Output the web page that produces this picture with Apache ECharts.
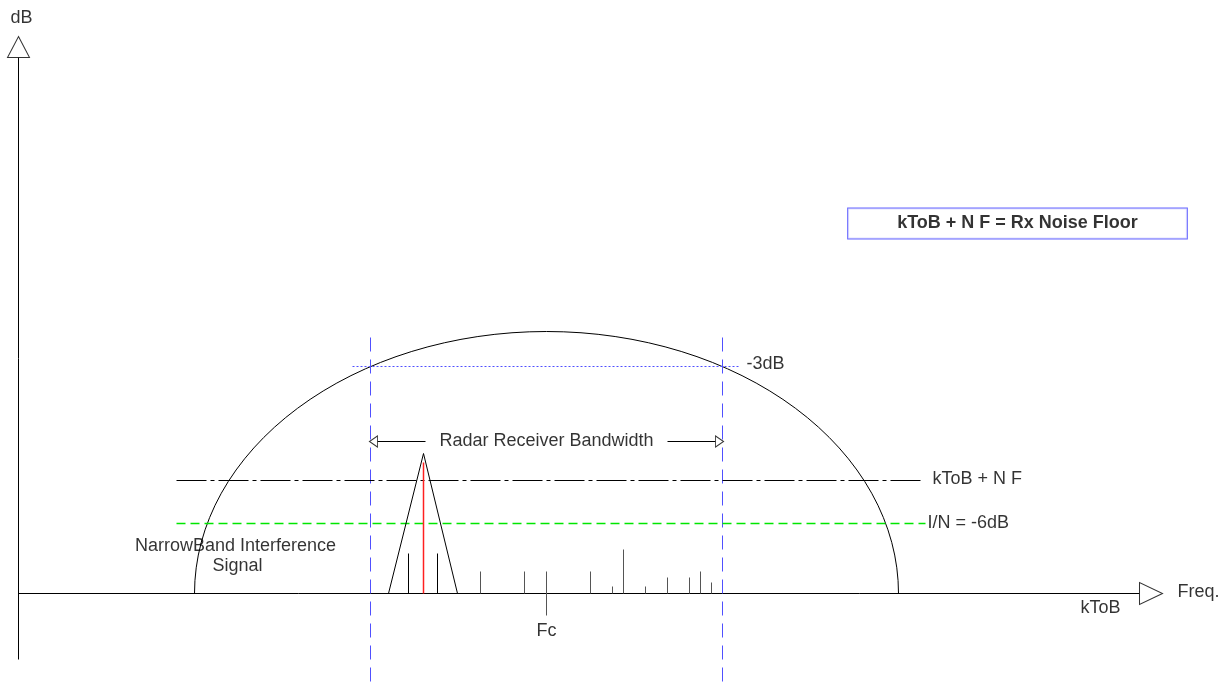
<!DOCTYPE html>
<html>
<head>
<meta charset="utf-8">
<script src="https://cdn.jsdelivr.net/npm/echarts@6/dist/echarts.min.js"></script>
<style>
html,body{margin:0;padding:0;background:#fff;}
#main{width:1226px;height:682px;}
</style>
</head>
<body>
<div id="main"></div>
<script>
// x: frequency offset from Fc, y: level above kToB (drawing units)
var xRange = [-546.5, 679.5];
var yRange = [-88.5, 593.5];

var freqAxis = [[-528, 0], [593, 0]];
var dbAxis = [[-528, -66], [-528, 536]];

// receiver response, half ellipse [centre, half width, height]
var passband = [0, 352, 262];
var bwEdges = [-176, 176];
var bwEdgeSpan = [-88, 262];
var level3dB = 227;
var level3dBSpan = [-194, 194];
var bwArrowLevel = 152;
var bwArrowSpan = [169, 121];
var noiseFloor = 113;
var noiseSpan = [-370, 374];
var inLevel = 70;
var inSpan = [-370, 379];

// narrowband interferer
var interferer = [[-158, 0], [-123, 140], [-89, 0]];
var carrier = [[-123, 0], [-123, 131]];

// spectral lines
var spikeX = [-138, -109, -66, -22, 0, 44, 66, 77, 99, 121, 143, 154, 165];
var spikeTop = [40, 40, 22, 22, 22, 22, 7, 44, 7, 16, 16, 22, 11];
var spikeBottom = [0, 0, 0, 0, -22, 0, 0, 0, 0, 0, 0, 0, 0];
var spikeInside = [1, 1, 0, 0, 0, 0, 0, 0, 0, 0, 0, 0, 0];

var FONT = '"Liberation Sans", Arial, sans-serif';
var BLUE = '#5050ff';
var GREEN = '#00e600';
var RED = '#ff2020';

var chart = echarts.init(document.getElementById('main'));

// polyline through data points, drawn with the given stroke
function segment(points, color, dash, width){
	return {
		type: 'custom', silent: true,
		data: [points.reduce(function(a, p){ return a.concat(p); }, [])],
		renderItem: function(params, api){
			var pts = [];
			for (var i = 0; i < points.length; i++) {
				pts.push(api.coord([api.value(2 * i), api.value(2 * i + 1)]));
			}
			return {
				type: 'polyline',
				shape: {points: pts},
				style: {fill: null, stroke: color, lineWidth: width || 1, lineDash: dash || null}
			};
		}
	};
}
function hline(y, span, color, dash, width){
	return segment([[span[0], y], [span[1], y]], color, dash, width);
}
function vline(x, span, color, dash, width){
	return segment([[x, span[0]], [x, span[1]]], color, dash, width);
}

var spikeData = spikeX.map(function(x, i){
	return [x, spikeTop[i], spikeBottom[i], spikeInside[i]];
});

var texts = [
	{value: [-525, 575], text: 'dB', align: 'center'},
	{value: [631, 1], text: 'Freq.', align: 'left'},
	{value: [534, -15], text: 'kToB', align: 'left'},
	{value: [0, -38], text: 'Fc', align: 'center'},
	{value: [200, 229], text: '-3dB', align: 'left'},
	{value: [0, 152], text: 'Radar Receiver Bandwidth', align: 'center'},
	{value: [386, 114], text: 'kToB + N F', align: 'left'},
	{value: [381, 70], text: 'I/N = -6dB', align: 'left'},
	{value: [-311, 47], text: 'NarrowBand Interference', align: 'center'},
	{value: [-309, 27], text: 'Signal', align: 'center'}
];

var series = [
	// axes
	hline(0, [freqAxis[0][0], freqAxis[1][0]], '#000'),
	vline(dbAxis[0][0], [dbAxis[0][1], dbAxis[1][1]], '#000'),
	{
		type: 'scatter', silent: true, symbol: 'triangle',
		itemStyle: {color: '#fff', borderColor: '#000', borderWidth: 1},
		data: [
			{value: [dbAxis[1][0], dbAxis[1][1] + 10.5], symbolSize: [22, 21]},
			{value: [freqAxis[1][0] + 11.5, 0], symbolSize: [22, 23], symbolRotate: -90},
			{value: [-bwArrowSpan[0] - 4, bwArrowLevel], symbolSize: [11, 8], symbolRotate: 90},
			{value: [bwArrowSpan[0] + 4, bwArrowLevel], symbolSize: [11, 8], symbolRotate: -90}
		],
		z: 5
	},
	// passband
	{
		type: 'custom', silent: true,
		data: [passband],
		renderItem: function(params, api){
			var cx = api.value(0), rx = api.value(1), ry = api.value(2);
			var l = api.coord([cx - rx, 0]);
			var r = api.coord([cx + rx, 0]);
			var s = api.size([rx, ry]);
			return {
				type: 'path',
				shape: {pathData: 'M' + l[0] + ' ' + l[1] + ' A' + s[0] + ' ' + s[1] + ' 0 0 1 ' + r[0] + ' ' + r[1]},
				style: {fill: null, stroke: '#000', lineWidth: 1}
			};
		}
	},
	vline(bwEdges[0], bwEdgeSpan, BLUE, [14, 8]),
	vline(bwEdges[1], bwEdgeSpan, BLUE, [14, 8]),
	hline(level3dB, level3dBSpan, BLUE, [2, 2]),
	hline(bwArrowLevel, [-bwArrowSpan[0], -bwArrowSpan[1]], '#000'),
	hline(bwArrowLevel, [bwArrowSpan[1], bwArrowSpan[0]], '#000'),
	hline(noiseFloor, noiseSpan, '#000', [30, 4, 4, 4]),
	hline(inLevel, inSpan, GREEN, [9, 5], 1.5),
	// interferer
	segment(interferer, '#000'),
	segment(carrier, RED, null, 1.5),
	{
		type: 'custom', silent: true,
		data: spikeData,
		renderItem: function(params, api){
			var p1 = api.coord([api.value(0), api.value(2)]);
			var p2 = api.coord([api.value(0), api.value(1)]);
			return {
				type: 'line',
				shape: {x1: p1[0], y1: p1[1], x2: p2[0], y2: p2[1]},
				style: {stroke: api.value(3) ? '#000' : '#555', lineWidth: 1}
			};
		}
	},
	// texts
	{
		type: 'scatter', silent: true, symbolSize: 0,
		data: texts.map(function(t){
			return {
				value: t.value,
				label: {
					show: true, position: 'inside', formatter: t.text,
					align: t.align, verticalAlign: 'middle',
					color: '#000', fontSize: 18, fontFamily: FONT
				}
			};
		}),
		z: 6
	},
	{
		type: 'scatter', silent: true, symbolSize: 0,
		data: [{
			value: [471, 370],
			label: {
				show: true, position: 'inside', formatter: 'kToB + N F = Rx Noise Floor',
				align: 'center', verticalAlign: 'middle',
				color: '#000', fontSize: 18, fontWeight: 'bold', fontFamily: FONT,
				lineHeight: 18, padding: [6, 49], borderColor: '#4040ff', borderWidth: 1,
				backgroundColor: '#fff'
			}
		}],
		z: 6
	}
];

chart.setOption({
	animation: false,
	backgroundColor: '#fff',
	grid: {left: 0, right: 0, top: 0, bottom: 0},
	xAxis: {type: 'value', min: xRange[0], max: xRange[1], show: false},
	yAxis: {type: 'value', min: yRange[0], max: yRange[1], show: false},
	series: series
});
</script>
</body>
</html>
